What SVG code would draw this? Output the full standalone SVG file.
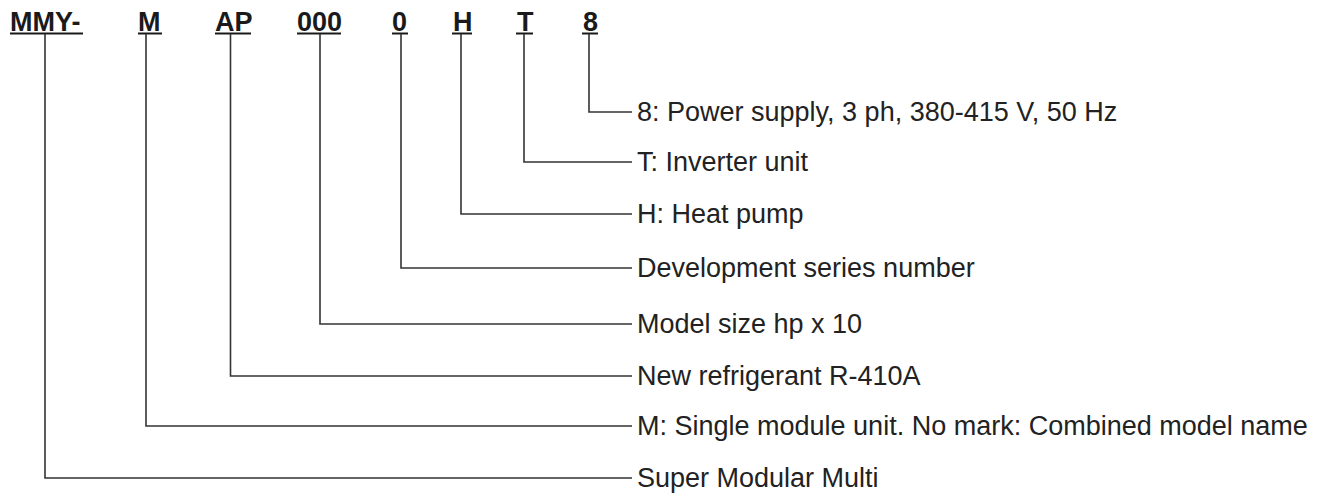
<svg xmlns="http://www.w3.org/2000/svg" width="1324" height="495" viewBox="0 0 1324 495">
<style>
.code{font-family:"Liberation Sans",Arial,sans-serif;font-weight:bold;font-size:27px;fill:#1a1a1a}
.lbl{font-family:"Liberation Sans",Arial,sans-serif;font-size:27px;fill:#222}
.ul{stroke:#1a1a1a;stroke-width:2;fill:none}
.con{stroke:#333;stroke-width:1.6;fill:none}
</style>
<rect width="1324" height="495" fill="#fff"/>
<g id="code-mmy"><text class="code" x="10" y="31">MMY-</text><line class="ul" x1="10" y1="33.5" x2="83" y2="33.5"/></g>
<g id="code-m"><text class="code" x="138" y="31">M</text><line class="ul" x1="138" y1="33.5" x2="162" y2="33.5"/></g>
<g id="code-ap"><text class="code" x="215" y="31">AP</text><line class="ul" x1="215" y1="33.5" x2="251" y2="33.5"/></g>
<g id="code-000"><text class="code" x="297" y="31">000</text><line class="ul" x1="297" y1="33.5" x2="341" y2="33.5"/></g>
<g id="code-0"><text class="code" x="392" y="31">0</text><line class="ul" x1="392" y1="33.5" x2="408" y2="33.5"/></g>
<g id="code-h"><text class="code" x="453" y="31">H</text><line class="ul" x1="452" y1="33.5" x2="472" y2="33.5"/></g>
<g id="code-t"><text class="code" x="517" y="31">T</text><line class="ul" x1="516" y1="33.5" x2="533" y2="33.5"/></g>
<g id="code-8"><text class="code" x="583" y="31">8</text><line class="ul" x1="582" y1="33.5" x2="598" y2="33.5"/></g>
<g id="connectors">
<polyline class="con" points="589,34 589,112 632,112"/>
<polyline class="con" points="524,34 524,162 632,162"/>
<polyline class="con" points="461,34 461,214 632,214"/>
<polyline class="con" points="401,34 401,268 632,268"/>
<polyline class="con" points="320,34 320,324 632,324"/>
<polyline class="con" points="230.5,34 230.5,376 632,376"/>
<polyline class="con" points="146,34 146,426 632,426"/>
<polyline class="con" points="45,34 45,478 632,478"/>
</g>
<g id="label-8"><text class="lbl" x="637" y="121">8: Power supply, 3 ph, 380-415 V, 50 Hz</text></g>
<g id="label-t"><text class="lbl" x="637" y="171">T: Inverter unit</text></g>
<g id="label-h"><text class="lbl" x="637" y="223">H: Heat pump</text></g>
<g id="label-0"><text class="lbl" x="637" y="277">Development series number</text></g>
<g id="label-000"><text class="lbl" x="637" y="333">Model size hp x 10</text></g>
<g id="label-ap"><text class="lbl" x="637" y="385">New refrigerant R-410A</text></g>
<g id="label-m"><text class="lbl" x="637" y="435">M: Single module unit. No mark: Combined model name</text></g>
<g id="label-mmy"><text class="lbl" x="637" y="487">Super Modular Multi</text></g>
</svg>
